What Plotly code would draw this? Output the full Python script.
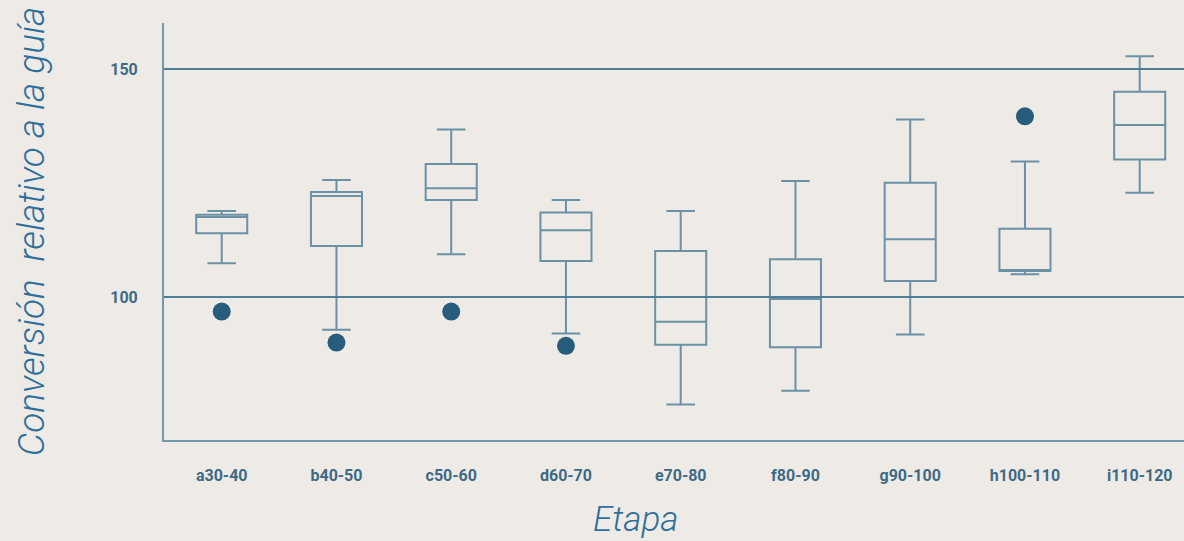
import plotly.graph_objects as go

categories = ["a30-40", "b40-50", "c50-60", "d60-70", "e70-80", "f80-90", "g90-100", "h100-110", "i110-120"]
lower_fence = [107.4, 92.8, 109.4, 92.0, 76.4, 79.4, 91.8, 105.0, 122.9]
q1_vals = [114.0, 111.2, 121.3, 107.9, 89.5, 89.0, 103.5, 105.7, 130.2]
median_vals = [117.6, 122.2, 123.9, 114.7, 94.6, 99.6, 112.7, 105.7, 137.8]
q3_vals = [118.1, 123.1, 129.2, 118.6, 110.1, 108.3, 125.1, 115.0, 145.1]
upper_fence = [118.9, 125.7, 136.8, 121.3, 118.9, 125.5, 139.0, 129.8, 152.9]

outlier_cats = ["a30-40", "b40-50", "c50-60", "d60-70", "h100-110"]
outlier_vals = [96.8, 90.0, 96.8, 89.3, 139.7]

y_ticks = [100, 150]

BOX_COLOR = "rgba(72,122,150,0.8)"
DOT_COLOR = "#275c7c"
BG = "#eeebe6"

fig = go.Figure()
fig.add_trace(go.Box(
    x=categories,
    q1=q1_vals, median=median_vals, q3=q3_vals,
    lowerfence=lower_fence, upperfence=upper_fence,
    boxpoints=False,
    fillcolor="rgba(0,0,0,0)",
    line=dict(color=BOX_COLOR, width=2),
    width=0.445,
    whiskerwidth=0.56,
    showlegend=False,
    hoverinfo="skip",
))
fig.add_trace(go.Scatter(
    x=outlier_cats, y=outlier_vals, mode="markers",
    marker=dict(color=DOT_COLOR, size=18, line=dict(width=0)),
    showlegend=False,
))

fig.update_layout(
    width=1184, height=541,
    paper_bgcolor=BG, plot_bgcolor=BG,
    margin=dict(l=164, r=0, t=23, b=101),
    font=dict(family="Roboto", color="#3e6a85"),
    xaxis=dict(
        type="category", categoryorder="array", categoryarray=categories,
        range=[-0.503, 8.386],
        showgrid=False, zeroline=False,
        showline=True, linecolor="#6f97ae", linewidth=2,
        ticks="", ticklabelstandoff=20,
        tickfont=dict(family="Roboto", size=16, color="#3e6a85", weight="bold"),
    ),
    yaxis=dict(
        range=[68.6, 160.2],
        tickvals=y_ticks, ticktext=[str(v) for v in y_ticks],
        showgrid=True, gridcolor="#4f7f99", gridwidth=1.6,
        zeroline=False,
        showline=True, linecolor="#6f97ae", linewidth=2,
        ticks="", ticklabelstandoff=21,
        tickfont=dict(family="Roboto", size=16, color="#3e6a85", weight="bold"),
        title=dict(text="Conversión  relativo a la guía", standoff=54,
                   font=dict(family="Roboto", size=37, color="#2f6f9b",
                             style="italic", weight=300)),
    ),
    annotations=[dict(
        text="Etapa", xref="paper", yref="paper", x=0.462, y=-0.19,
        xanchor="center", yanchor="middle", showarrow=False,
        font=dict(family="Roboto", size=35, color="#2f6f9b", style="italic", weight=300),
    )],
)

fig.write_html("out.html", config={"displayModeBar": False},
               post_script="document.body.style.margin='0';document.body.style.overflow='hidden';")
